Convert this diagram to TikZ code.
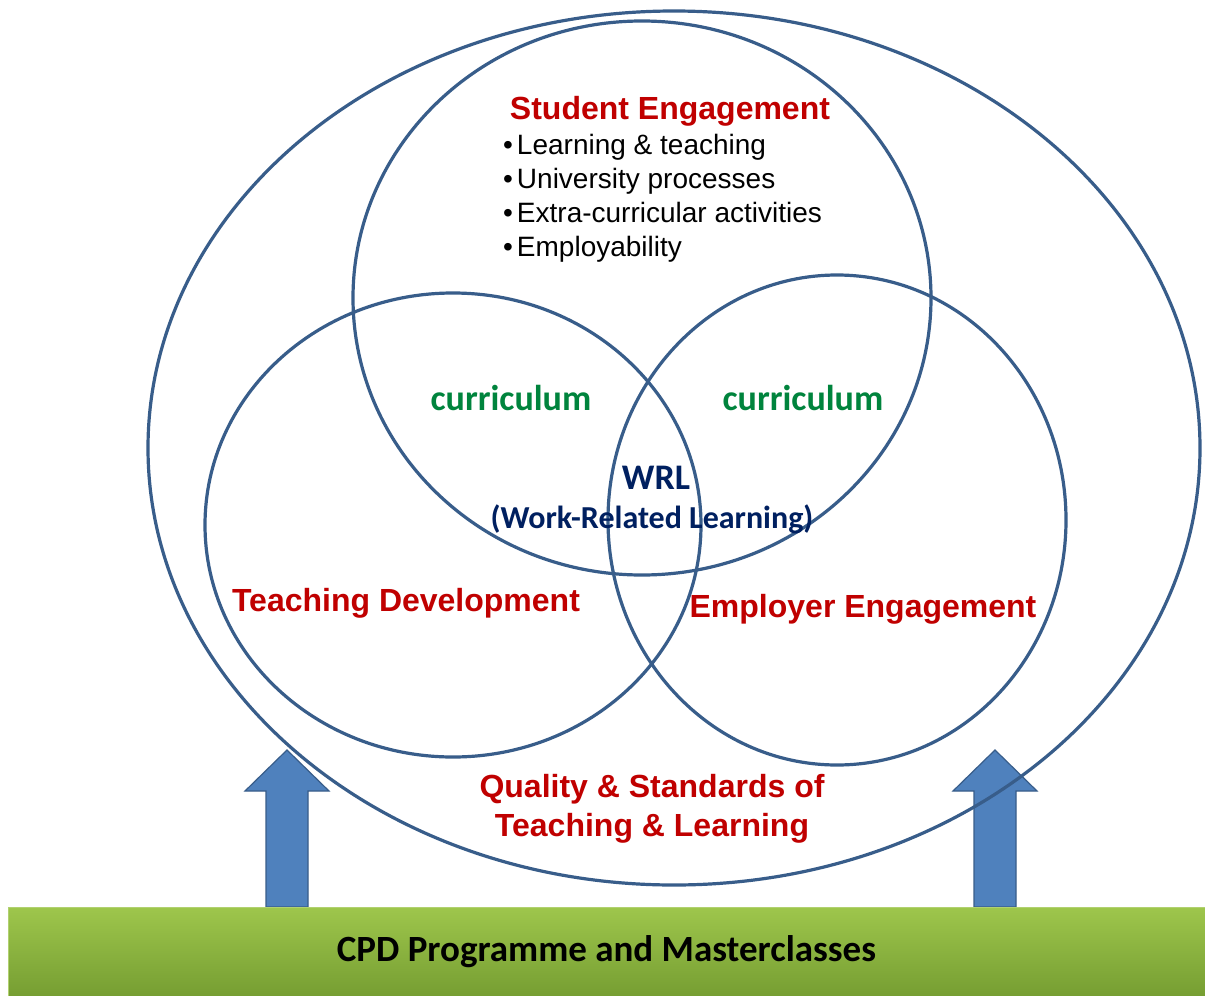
\documentclass[tikz,border=0pt]{standalone}
\usepackage{fontspec}
\setmainfont{Liberation Sans}
\newfontfamily\calibrifont{Carlito}
\definecolor{ringblue}{RGB}{56,93,138}
\definecolor{arrowblue}{RGB}{79,129,189}
\definecolor{titlered}{RGB}{192,0,0}
\definecolor{currgreen}{RGB}{0,132,61}
\definecolor{wrlnavy}{RGB}{0,32,96}
\definecolor{bartop}{RGB}{158,198,76}
\definecolor{barbottom}{RGB}{118,158,50}
\tikzset{
  ring/.style={draw=ringblue, line width=3.2pt},
  uparrow/.style={fill=arrowblue, draw=ringblue, line width=1.2pt},
  redlabel/.style={text=titlered, font=\bfseries\fontsize{32}{38}\selectfont, anchor=base, inner sep=0pt},
  greenlabel/.style={text=currgreen, font=\calibrifont\bfseries\fontsize{36}{42}\selectfont, anchor=base, inner sep=0pt},
  bulletitem/.style={text=black, font=\fontsize{28}{33}\selectfont, anchor=base west, inner sep=0pt},
  cpdbar/.style={top color=bartop, bottom color=barbottom, draw=bartop!80!white, line width=0.8pt, minimum width=1197pt, minimum height=89pt, inner sep=0pt, font=\calibrifont\bfseries\fontsize{37}{42}\selectfont}
}
\begin{document}
\begin{tikzpicture}[x=1pt,y=-1pt]
\useasboundingbox[fill=white] (0,0) rectangle (1205,996);
\foreach \ax in {287,995}
  \draw[uparrow] ({\ax-21},907) -- ({\ax-21},791) -- ({\ax-42},791) -- (\ax,750) -- ({\ax+42},791) -- ({\ax+21},791) -- ({\ax+21},907) -- cycle;
\draw[ring] (674,448) ellipse [x radius=526pt, y radius=437pt];
\draw[ring] (642,298) ellipse [x radius=289pt, y radius=277pt];
\draw[ring] (453,525) ellipse [x radius=248pt, y radius=232pt];
\draw[ring] (837,520) ellipse [x radius=229pt, y radius=245pt];
\node[cpdbar] (cpd) at (606.5,951.5) {CPD Programme and Masterclasses};
\node[redlabel] (student) at (670,119) {Student Engagement};
\node[bulletitem] (se1) at (503,154) {\textbullet\hspace{4pt}Learning \& teaching};
\node[bulletitem] (se2) at (503,188) {\textbullet\hspace{4pt}University processes};
\node[bulletitem] (se3) at (503,222) {\textbullet\hspace{4pt}Extra-curricular activities};
\node[bulletitem] (se4) at (503,256) {\textbullet\hspace{4pt}Employability};
\node[greenlabel] (currleft) at (511,410) {curriculum};
\node[greenlabel] (currright) at (803,410) {curriculum};
\node[greenlabel, text=wrlnavy] (wrl) at (656,489) {WRL};
\node[greenlabel, text=wrlnavy, font=\calibrifont\bfseries\fontsize{32}{38}\selectfont] (wrlfull) at (652,528) {(Work-Related Learning)};
\node[redlabel] (teaching) at (406,611) {Teaching Development};
\node[redlabel] (employer) at (863,617) {Employer Engagement};
\node[redlabel] (quality) at (652,797) {Quality \& Standards of};
\node[redlabel] (standards) at (652,836) {Teaching \& Learning};
\end{tikzpicture}
\end{document}
